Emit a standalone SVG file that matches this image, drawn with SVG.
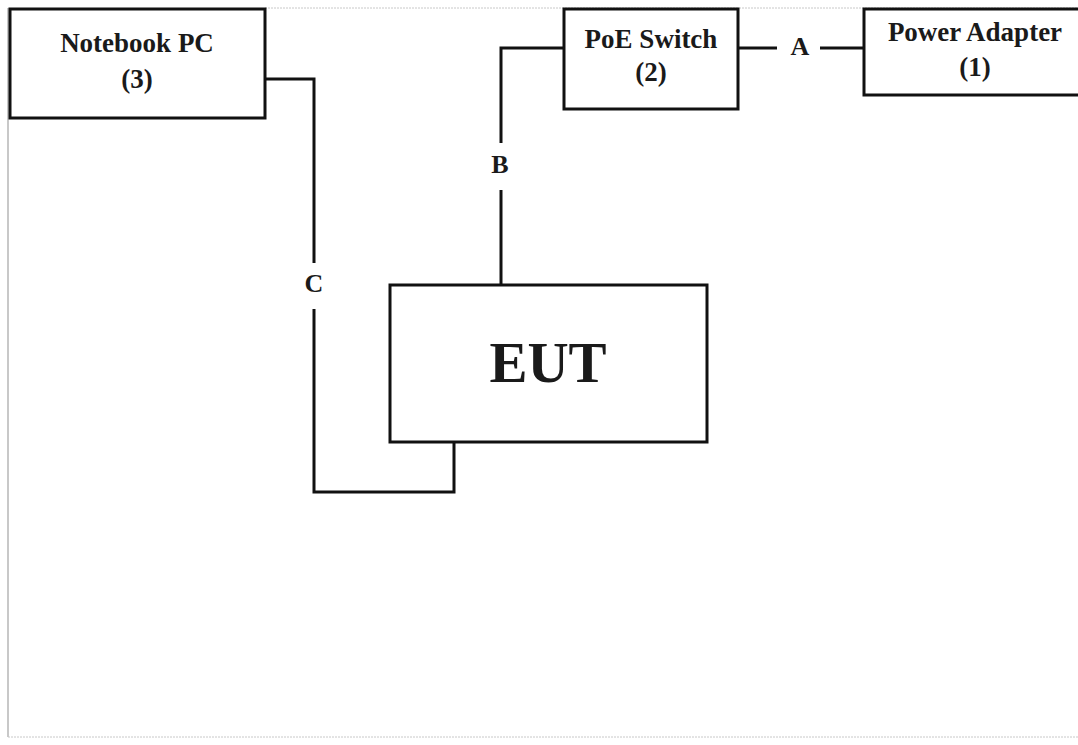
<svg xmlns="http://www.w3.org/2000/svg" width="1078" height="745" viewBox="0 0 1078 745">
<style>
.box{fill:#fff;stroke:#111;stroke-width:3}
.wire{fill:none;stroke:#111;stroke-width:3}
.t{font-family:"Liberation Serif","Times New Roman",serif;font-weight:bold;fill:#1a1a1a;text-anchor:middle}
.n{font-size:27px}
.lbl{font-size:26px}
.page{stroke:#c8c8c8;fill:none}
</style>
<rect width="1078" height="745" fill="#fff"/>
<g id="page">
<line class="page" x1="8" y1="8" x2="8" y2="737" stroke-width="2"/>
<line class="page" x1="265" y1="8" x2="1078" y2="8" stroke-width="1" stroke-dasharray="2,1"/>
<line class="page" x1="8" y1="737" x2="1078" y2="737" stroke-width="1" stroke-dasharray="2,1"/>
</g>
<g id="connectors">
<path class="wire" d="M265,79 H314 V263"/>
<path class="wire" d="M314,309 V492 H454 V442"/>
<path class="wire" d="M501,285 V190"/>
<path class="wire" d="M501,143 V48 H564"/>
<path class="wire" d="M738,48 H777"/>
<path class="wire" d="M820,48 H864"/>
<text class="t lbl" x="800" y="55">A</text>
<text class="t lbl" x="500" y="173">B</text>
<text class="t lbl" x="314" y="292">C</text>
</g>
<g id="notebook">
<rect class="box" x="10" y="9" width="255" height="109"/>
<text class="t n" x="137" y="52">Notebook PC</text>
<text class="t n" x="137" y="88">(3)</text>
</g>
<g id="poe">
<rect class="box" x="564" y="9" width="174" height="100"/>
<text class="t n" x="651" y="48">PoE Switch</text>
<text class="t n" x="651" y="81">(2)</text>
</g>
<g id="adapter">
<rect class="box" x="864" y="9" width="220" height="86"/>
<text class="t n" x="975" y="41">Power Adapter</text>
<text class="t n" x="975" y="76">(1)</text>
</g>
<g id="eut">
<rect class="box" x="390" y="285" width="317" height="157"/>
<text class="t" x="548" y="382" font-size="57">EUT</text>
</g>
</svg>
